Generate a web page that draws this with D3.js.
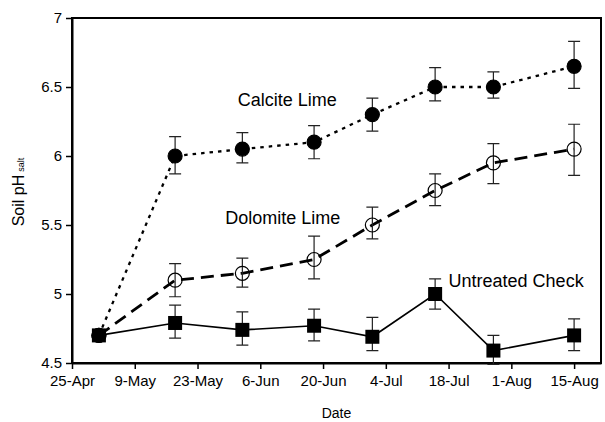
<!DOCTYPE html>
<html>
<head>
<meta charset="utf-8">
<script src="https://cdn.jsdelivr.net/npm/d3@7"></script>
<style>
  body { margin: 0; background: #fff; }
  svg text { font-family: "Liberation Sans", Arial, sans-serif; fill: #000; }
</style>
</head>
<body>
<div id="chart"></div>
<script>
// sampling dates and tick labels
const sampleDates = ["2000-05-01", "2000-05-18", "2000-06-02", "2000-06-18", "2000-07-01", "2000-07-15", "2000-07-28", "2000-08-15"];
const tickDates = ["2000-04-25", "2000-05-09", "2000-05-23", "2000-06-06", "2000-06-20", "2000-07-04", "2000-07-18", "2000-08-01", "2000-08-15"];
const yTicks = [4.5, 5, 5.5, 6, 6.5, 7];

// soil pH means and error bar bounds
const calcite = [4.70, 6.00, 6.05, 6.10, 6.30, 6.50, 6.50, 6.65];
const calciteLow = [4.68, 5.87, 5.95, 5.98, 6.18, 6.40, 6.42, 6.49];
const calciteHigh = [4.72, 6.14, 6.17, 6.22, 6.42, 6.64, 6.61, 6.83];

const dolomite = [4.70, 5.10, 5.15, 5.25, 5.50, 5.75, 5.95, 6.05];
const dolomiteLow = [4.68, 4.98, 5.05, 5.11, 5.40, 5.64, 5.80, 5.86];
const dolomiteHigh = [4.72, 5.22, 5.26, 5.42, 5.63, 5.87, 6.09, 6.23];

const check = [4.70, 4.79, 4.74, 4.77, 4.69, 5.00, 4.59, 4.70];
const checkLow = [4.68, 4.68, 4.63, 4.66, 4.59, 4.89, 4.49, 4.59];
const checkHigh = [4.72, 4.92, 4.87, 4.89, 4.83, 5.11, 4.70, 4.82];

const width = 605, height = 422;
const margin = {top: 18, right: 4, bottom: 59, left: 72};
const parse = d3.timeParse("%Y-%m-%d");

const svg = d3.select("#chart").append("svg")
    .attr("width", width)
    .attr("height", height);

const x = d3.scaleTime()
    .domain([parse("2000-04-25"), parse("2000-08-21")])
    .range([margin.left, width - margin.right]);

const y = d3.scaleLinear()
    .domain([4.5, 7])
    .range([height - margin.bottom, margin.top]);

const plotW = width - margin.left - margin.right;
const plotH = height - margin.top - margin.bottom;

// frame
svg.append("rect")
    .attr("x", margin.left)
    .attr("y", margin.top)
    .attr("width", plotW)
    .attr("height", plotH)
    .attr("fill", "none")
    .attr("stroke", "#000")
    .attr("stroke-width", 2);

// axes
const xAxis = d3.axisBottom(x)
    .tickValues(tickDates.map(parse))
    .tickFormat(d3.timeFormat("%-d-%b"))
    .tickSize(6)
    .tickSizeOuter(0)
    .tickPadding(6);

const yAxis = d3.axisLeft(y)
    .tickValues(yTicks)
    .tickFormat(d => d)
    .tickSize(6)
    .tickSizeOuter(0)
    .tickPadding(4);

const gx = svg.append("g")
    .attr("transform", `translate(0,${height - margin.bottom})`)
    .call(xAxis);
const gy = svg.append("g")
    .attr("transform", `translate(${margin.left},0)`)
    .call(yAxis);

[gx, gy].forEach(g => {
    g.select(".domain").attr("stroke-width", 2);
    g.selectAll(".tick line").attr("stroke-width", 1.5);
    g.selectAll(".tick text").style("font-size", "15px");
});

// axis titles
svg.append("text")
    .attr("x", margin.left + plotW / 2)
    .attr("y", 418)
    .attr("text-anchor", "middle")
    .style("font-size", "14px")
    .text("Date");

const yTitle = svg.append("text")
    .attr("transform", "translate(23.5,192) rotate(-90)")
    .attr("text-anchor", "middle")
    .style("font-size", "16px");
yTitle.append("tspan").text("Soil pH");
yTitle.append("tspan").attr("dx", 3).style("font-size", "9px").text("salt");

const series = [
    {name: "Calcite Lime", vals: calcite, lo: calciteLow, hi: calciteHigh, dash: "3.5,5", sw: 2.3, marker: "filled"},
    {name: "Dolomite Lime", vals: dolomite, lo: dolomiteLow, hi: dolomiteHigh, dash: "13,7", sw: 2.8, marker: "open"},
    {name: "Untreated Check", vals: check, lo: checkLow, hi: checkHigh, dash: null, sw: 1.6, marker: "square"}
];

const line = d3.line()
    .x(d => x(d.date))
    .y(d => y(d.v));

series.forEach(s => {
    const pts = sampleDates.map((d, i) => ({date: parse(d), v: s.vals[i], lo: s.lo[i], hi: s.hi[i]}));
    s.pts = pts;
    svg.append("path")
        .datum(pts)
        .attr("d", line)
        .attr("fill", "none")
        .attr("stroke", "#000")
        .attr("stroke-width", s.sw)
        .attr("stroke-dasharray", s.dash);
});

// error bars and markers
series.slice().reverse().forEach(s => {
    const g = svg.append("g");
    const cap = 6;
    s.pts.forEach(p => {
        const cx = x(p.date);
        g.append("path")
            .attr("d", `M${cx},${y(p.lo)}V${y(p.hi)}M${cx - cap},${y(p.lo)}H${cx + cap}M${cx - cap},${y(p.hi)}H${cx + cap}`)
            .attr("fill", "none")
            .attr("stroke", "#222")
            .attr("stroke-width", 1.2);
        if (s.marker === "square") {
            g.append("rect")
                .attr("x", cx - 7).attr("y", y(p.v) - 7)
                .attr("width", 14).attr("height", 14)
                .attr("fill", "#000");
        } else {
            g.append("circle")
                .attr("cx", cx).attr("cy", y(p.v)).attr("r", 7)
                .attr("fill", s.marker === "filled" ? "#000" : "none")
                .attr("stroke", "#000")
                .attr("stroke-width", 1.2);
        }
    });
});

// series labels
svg.append("text").attr("x", x(parse("2000-06-12"))).attr("y", y(6.36))
    .attr("text-anchor", "middle").style("font-size", "18px").text("Calcite Lime");
svg.append("text").attr("x", x(parse("2000-06-11"))).attr("y", y(5.51))
    .attr("text-anchor", "middle").style("font-size", "18px").text("Dolomite Lime");
svg.append("text").attr("x", x(parse("2000-07-18"))).attr("y", y(5.05))
    .attr("text-anchor", "start").style("font-size", "18px").text("Untreated Check");
</script>
</body>
</html>
